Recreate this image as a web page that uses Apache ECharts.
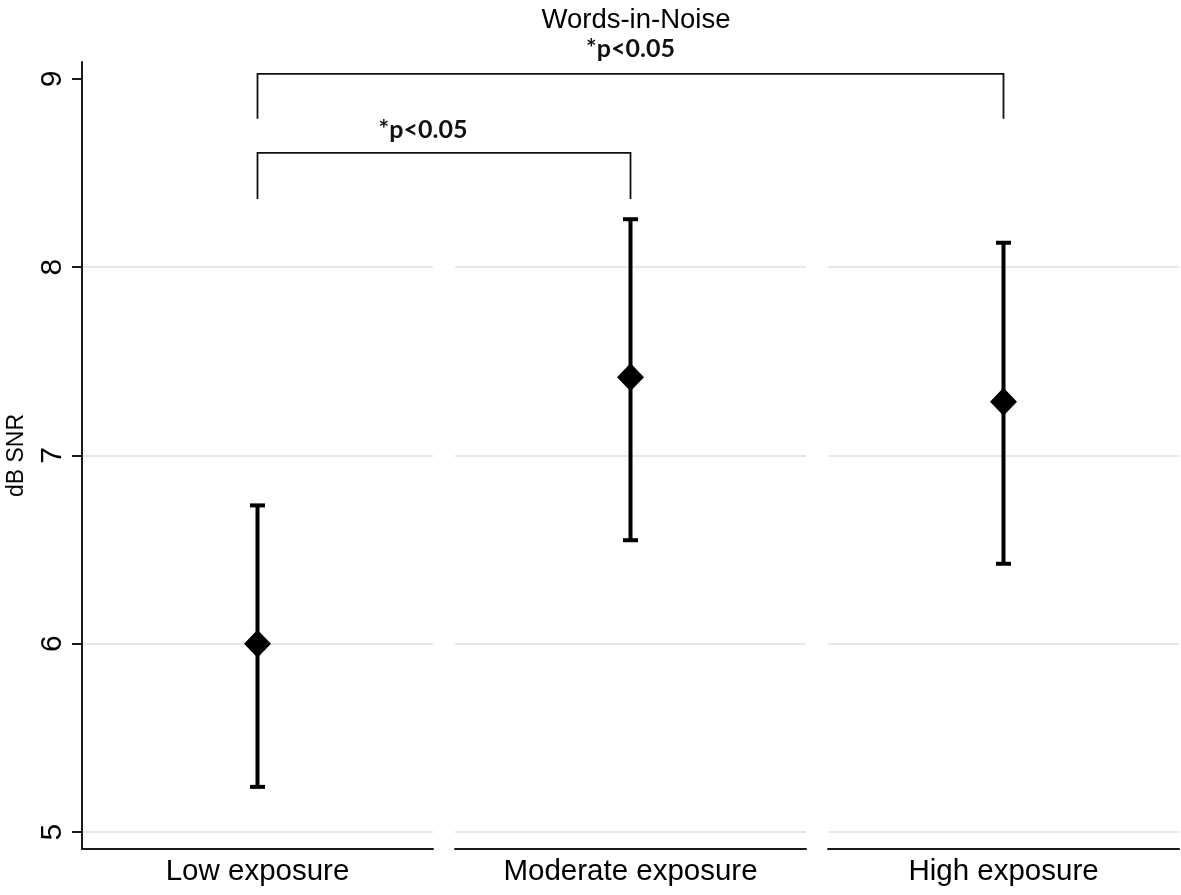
<!DOCTYPE html>
<html>
<head>
<meta charset="utf-8">
<script src="https://cdn.jsdelivr.net/npm/echarts@6/dist/echarts.min.js"></script>
<style>html,body{margin:0;padding:0;background:#fff}#c{width:1181px;height:895px}</style>
</head>
<body>
<div id="c"></div>
<script>
// ---- data ----
const categories = ['Low exposure', 'Moderate exposure', 'High exposure'];
const means = [6.00, 7.415, 7.285];
const lowerCI = [5.24, 6.55, 6.425];
const upperCI = [6.735, 8.255, 8.13];
const yTicks = [5, 6, 7, 8, 9];
const gridValues = [5, 6, 7, 8];
const yMin = 4.91, yMax = 9.09;
const brackets = [
  { from: 0, to: 2, top: 9.027, leg: 8.788, label: '*p<0.05', labelY: 9.162, shift: 0 },
  { from: 0, to: 1, top: 8.607, leg: 8.363, label: '*p<0.05', labelY: 8.73, shift: -21 }
];
const titleText = 'Words-in-Noise';
const yName = 'dB SNR';

// ---- layout ----
const F = 'Liberation Sans, Arial, Helvetica, sans-serif';
const panelLeft0 = 82, panelW = 351, panelStep = 373, gTop = 62, gBottom = 46;

const chart = echarts.init(document.getElementById('c'), null, { renderer: 'canvas' });

const grids = [], xAxes = [], yAxes = [], series = [];
categories.forEach((cat, i) => {
  grids.push({ left: panelLeft0 + i * panelStep, width: panelW, top: gTop, bottom: gBottom, containLabel: false });
  xAxes.push({
    type: 'category', gridIndex: i, data: [cat], boundaryGap: true,
    axisLine: { show: true, lineStyle: { color: '#1a1a1a', width: 2 } },
    axisTick: { show: false },
    axisLabel: { color: '#000', fontSize: 29.5, fontFamily: F, margin: 8 },
    splitLine: { show: false }
  });
  yAxes.push({
    type: 'value', gridIndex: i, min: yMin, max: yMax, show: i === 0,
    name: i === 0 ? yName : '', nameLocation: 'middle', nameRotate: 90, nameGap: 54,
    nameTextStyle: { color: '#000', fontSize: 23, fontFamily: F },
    axisLine: { show: true, lineStyle: { color: '#1a1a1a', width: 2 } },
    axisTick: { show: true, length: 10, lineStyle: { color: '#1a1a1a', width: 2 }, customValues: yTicks },
    axisLabel: { show: true, rotate: 90, color: '#000', fontSize: 30, fontFamily: F, margin: 14, customValues: yTicks },
    splitLine: { show: false }
  });
  // gridlines
  series.push({
    type: 'line', xAxisIndex: i, yAxisIndex: i, data: [], silent: true,
    markLine: {
      silent: true, symbol: 'none', label: { show: false },
      lineStyle: { color: '#e8e8e8', width: 2, type: 'solid' },
      data: gridValues.map(v => ({ yAxis: v })), z: 0
    }
  });
  // error bar
  series.push({
    type: 'custom', xAxisIndex: i, yAxisIndex: i, z: 3,
    data: [[0, lowerCI[i], upperCI[i]]],
    renderItem: function (params, api) {
      const lo = api.coord([api.value(0), api.value(1)]);
      const hi = api.coord([api.value(0), api.value(2)]);
      const cw = 7.5;
      const st = { stroke: '#000', lineWidth: 4 };
      return {
        type: 'group', children: [
          { type: 'line', shape: { x1: lo[0], y1: lo[1], x2: hi[0], y2: hi[1] }, style: st },
          { type: 'line', shape: { x1: lo[0] - cw, y1: lo[1], x2: lo[0] + cw, y2: lo[1] }, style: st },
          { type: 'line', shape: { x1: hi[0] - cw, y1: hi[1], x2: hi[0] + cw, y2: hi[1] }, style: st }
        ]
      };
    }
  });
  // mean
  series.push({
    type: 'scatter', xAxisIndex: i, yAxisIndex: i, z: 4,
    symbol: 'diamond', symbolSize: [27, 28],
    itemStyle: { color: '#000', opacity: 1 },
    data: [[0, means[i]]]
  });
});

chart.setOption({
  animation: false,
  backgroundColor: '#fff',
  title: {
    text: titleText, left: 631, top: 1, textAlign: 'center',
    textStyle: { color: '#000', fontSize: 27.5, fontWeight: 'normal', fontFamily: F }
  },
  grid: grids, xAxis: xAxes, yAxis: yAxes, series: series
});

// brackets drawn from axis coordinates
const gfx = [];
brackets.forEach(b => {
  const pFromTop = chart.convertToPixel({ xAxisIndex: b.from, yAxisIndex: b.from }, [0, b.top]);
  const pFromLeg = chart.convertToPixel({ xAxisIndex: b.from, yAxisIndex: b.from }, [0, b.leg]);
  const pToTop = chart.convertToPixel({ xAxisIndex: b.to, yAxisIndex: b.to }, [0, b.top]);
  const pToLeg = chart.convertToPixel({ xAxisIndex: b.to, yAxisIndex: b.to }, [0, b.leg]);
  const pLab = chart.convertToPixel({ xAxisIndex: b.from, yAxisIndex: b.from }, [0, b.labelY]);
  gfx.push({
    type: 'polyline', silent: true,
    shape: { points: [[pFromLeg[0], pFromLeg[1]], [pFromTop[0], pFromTop[1]], [pToTop[0], pToTop[1]], [pToLeg[0], pToLeg[1]]] },
    style: { stroke: '#111', lineWidth: 1.8, fill: null }
  });
  gfx.push({
    type: 'text', silent: true,
    x: (pFromTop[0] + pToTop[0]) / 2 + b.shift, y: pLab[1],
    style: { text: b.label, align: 'center', verticalAlign: 'middle', fill: '#111',
      font: 'bold 25px Lato, "Open Sans", sans-serif' }
  });
});
chart.setOption({ graphic: gfx });
</script>
</body>
</html>
